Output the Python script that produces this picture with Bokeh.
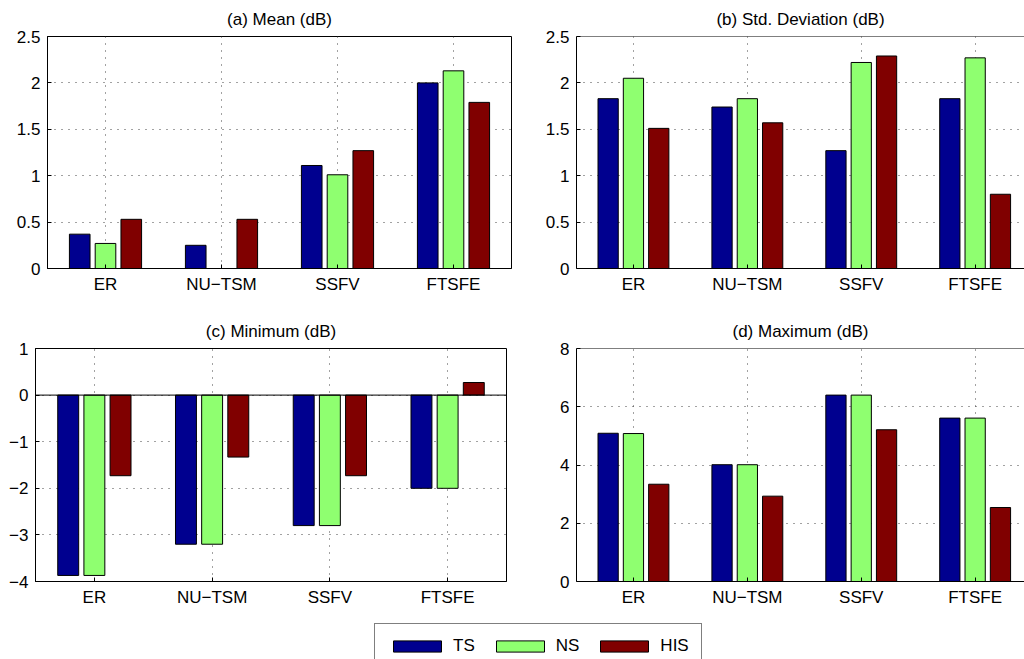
from bokeh.plotting import figure
from bokeh.models import Span, Legend, LegendItem
from bokeh.layouts import column, row
from bokeh.embed import file_html
from bokeh.resources import INLINE

# ---------------- data ----------------
categories = ["ER", "NU\u2212TSM", "SSFV", "FTSFE"]
series_names = ["TS", "NS", "HIS"]
series_colors = ["#00008F", "#8FFF70", "#800000"]

mean_ts = [0.37, 0.25, 1.11, 2.00]
mean_ns = [0.27, 0.00, 1.01, 2.13]
mean_his = [0.53, 0.53, 1.27, 1.79]

std_ts = [1.83, 1.74, 1.27, 1.83]
std_ns = [2.05, 1.83, 2.22, 2.27]
std_his = [1.51, 1.57, 2.29, 0.80]

min_ts = [-3.87, -3.20, -2.80, -2.00]
min_ns = [-3.87, -3.20, -2.80, -2.00]
min_his = [-1.73, -1.33, -1.73, 0.27]

max_ts = [5.09, 4.01, 6.40, 5.61]
max_ns = [5.08, 4.01, 6.40, 5.61]
max_his = [3.34, 2.93, 5.21, 2.54]

mean_ticks = [0, 0.5, 1, 1.5, 2, 2.5]
std_ticks = [0, 0.5, 1, 1.5, 2, 2.5]
min_ticks = [-4, -3, -2, -1, 0, 1]
max_ticks = [0, 2, 4, 6, 8]

FONT = "Liberation Sans"
FS = "17px"
GROUP_W = 3 / 4.5
OFFSETS = [-GROUP_W / 3, 0, GROUP_W / 3]
BAR_W = GROUP_W / 3 * 0.8


def fmt(v):
    s = ("%g" % v)
    return s.replace("-", "\u2212")


def panel(title, values, ticks, y0, y1, left, fw, right, top, fh, bottom,
          x_end, outline=True, zero_line=False):
    p = figure(frame_width=fw, frame_height=fh,
               min_border_left=left, min_border_right=right,
               min_border_top=top, min_border_bottom=bottom,
               x_range=(0.5, x_end), y_range=(y0, y1),
               output_backend="svg", toolbar_location=None,
               background_fill_color="white", border_fill_color="white")
    p.title.text = title
    p.title.align = "center"
    p.title.text_font = FONT
    p.title.text_font_size = FS
    p.title.text_font_style = "normal"
    p.title.text_color = "black"
    p.title.standoff = 15

    ncat = len(categories)
    for s, (vals, col) in enumerate(zip(values, series_colors)):
        xs = [i + 1 + OFFSETS[s] for i in range(ncat)]
        p.vbar(x=xs, top=vals, bottom=0, width=BAR_W,
               fill_color=col, line_color="black", line_width=1)

    p.xaxis.ticker = list(range(1, ncat + 1))
    p.xaxis.major_label_overrides = {i + 1: c for i, c in enumerate(categories)}
    p.yaxis.ticker = ticks
    p.yaxis.major_label_overrides = {t: fmt(t) for t in ticks}

    for ax in (p.xaxis, p.yaxis):
        ax.axis_line_color = "black"
        ax.axis_line_width = 1
        ax.major_tick_in = 4
        ax.major_tick_out = 0
        ax.minor_tick_line_color = None
        ax.major_tick_line_color = "black"
        ax.major_label_text_font = FONT
        ax.major_label_text_font_size = FS
        ax.major_label_text_color = "black"
    p.xaxis.major_label_standoff = 6
    p.yaxis.major_label_standoff = 7

    for g in (p.xgrid, p.ygrid):
        g.grid_line_color = "#444444"
        g.grid_line_dash = "1 6"
        g.grid_line_width = 1

    if outline:
        p.outline_line_color = "black"
        p.outline_line_width = 1
        p.outline_line_alpha = 1
    else:
        p.outline_line_color = None
        p.add_layout(Span(location=y1, dimension="width",
                          line_color="black", line_width=1))
    if zero_line:
        p.add_layout(Span(location=0, dimension="width",
                          line_color="black", line_width=1))
    return p


pa = panel("(a) Mean (dB)", [mean_ts, mean_ns, mean_his], mean_ticks, 0, 2.5,
           47, 464, 1, 36, 232, 32, 4.5)
pb = panel("(b) Std. Deviation (dB)", [std_ts, std_ns, std_his], std_ticks, 0, 2.5,
           64, 448, 0, 36, 232, 32, 0.5 + 448 / 113.9, outline=False)
pc = panel("(c) Minimum (dB)", [min_ts, min_ns, min_his], min_ticks, -4, 1,
           35, 471, 6, 48, 233, 29, 4.5, zero_line=True)
pd = panel("(d) Maximum (dB)", [max_ts, max_ns, max_his], max_ticks, 0, 8,
           64, 448, 0, 48, 233, 29, 0.5 + 448 / 113.9, outline=False)

# legend strip
pl = figure(width=1024, height=49, min_border=0, x_range=(0, 1), y_range=(0, 1),
            output_backend="svg", toolbar_location=None)
pl.axis.visible = False
pl.grid.visible = False
pl.outline_line_color = None
items = []
for name, col in zip(series_names, series_colors):
    r = pl.vbar(x=[5], top=[1], width=0.1, fill_color=col, line_color="black", line_width=1)
    items.append(LegendItem(label=name, renderers=[r]))
leg = Legend(items=items, orientation="horizontal", location=(374, -10),
             padding=12, spacing=15, glyph_width=60, glyph_height=14,
             label_height=14, label_standoff=6, margin=0,
             label_text_font=FONT, label_text_font_size=FS,
             label_text_color="black",
             border_line_color="black", border_line_width=1,
             background_fill_color="white", background_fill_alpha=1)
pl.add_layout(leg)

layout = column(row(pa, pb, spacing=0), row(pc, pd, spacing=0), pl, spacing=0)

open("out.html", "w").write(file_html(layout, INLINE))
